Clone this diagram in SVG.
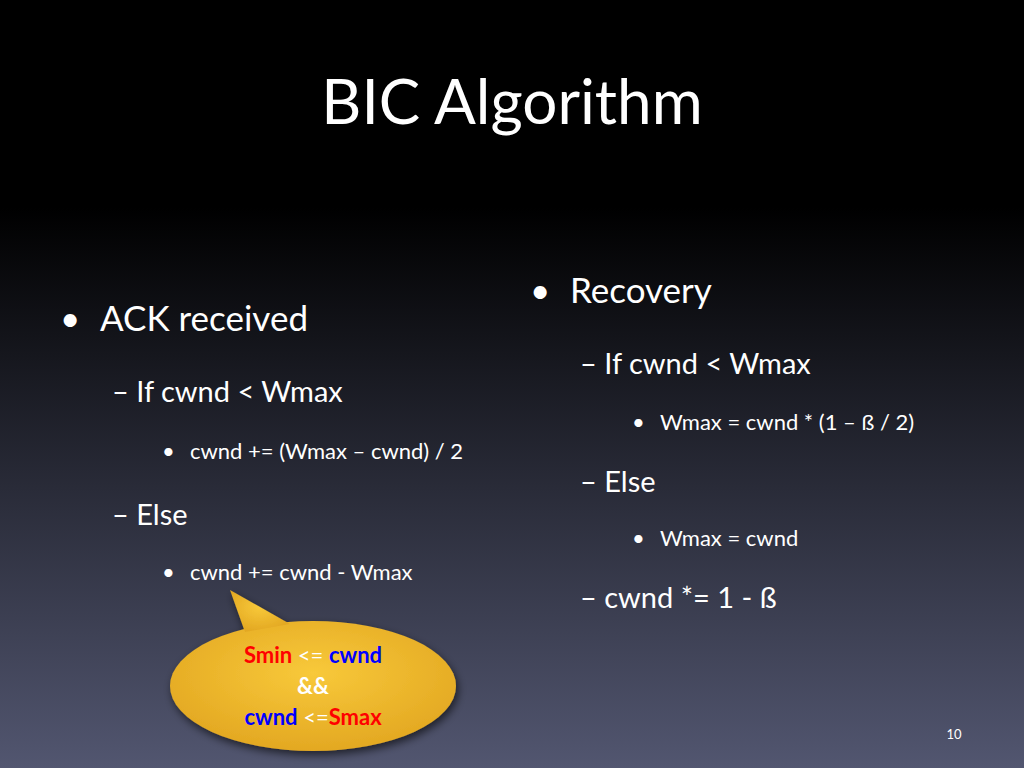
<svg xmlns="http://www.w3.org/2000/svg" width="1024" height="768" viewBox="0 0 1024 768">
<defs>
<linearGradient id="bg" x1="0" y1="0" x2="0" y2="1">
<stop offset="0" stop-color="#000"/><stop offset="0.27" stop-color="#000"/><stop offset="1" stop-color="#525670"/>
</linearGradient>
<radialGradient id="gold" cx="0.5" cy="0.4" r="0.6">
<stop offset="0" stop-color="#f8c93a"/><stop offset="1" stop-color="#e3a822"/>
</radialGradient>
<filter id="sh"><feDropShadow dx="2" dy="4" stdDeviation="4" flood-color="#000" flood-opacity="0.6"/></filter>
</defs>
<style>
text{font-family:Lato,"Open Sans",sans-serif;fill:#fff}
.l1{font-size:35px}.l2{font-size:29px}.l3{font-size:22px}
.c{font-size:22px;font-weight:bold;text-anchor:middle}
</style>
<rect width="1024" height="768" fill="url(#bg)"/>
<text x="512" y="124" font-size="62" text-anchor="middle">BIC Algorithm</text>
<g id="left">
<text class="l1" x="60" y="331">•</text><text class="l1" x="100" y="331">ACK received</text>
<text class="l2" x="112" y="402">– If cwnd &lt; Wmax</text>
<text class="l3" x="162" y="459">•</text><text class="l3" x="190" y="459">cwnd += (Wmax – cwnd) / 2</text>
<text class="l2" x="112" y="525">– Else</text>
<text class="l3" x="162" y="580">•</text><text class="l3" x="190" y="580">cwnd += cwnd - Wmax</text>
</g>
<g id="right">
<text class="l1" x="530" y="303">•</text><text class="l1" x="570" y="303">Recovery</text>
<text class="l2" x="580" y="374">– If cwnd &lt; Wmax</text>
<text class="l3" x="632" y="430">•</text><text class="l3" x="660" y="430">Wmax = cwnd * (1 – ß / 2)</text>
<text class="l2" x="580" y="492">– Else</text>
<text class="l3" x="632" y="546">•</text><text class="l3" x="660" y="546">Wmax = cwnd</text>
<text class="l2" x="580" y="608">– cwnd *= 1 - ß</text>
</g>
<g id="callout">
<g filter="url(#sh)" fill="url(#gold)">
<ellipse cx="313" cy="686" rx="143" ry="65"/>
<path d="M230,590 L245,632 L290,624 Z"/>
</g>
<text class="c" x="313" y="663"><tspan fill="#ff0000">Smin</tspan><tspan fill="#fff" font-weight="normal"> &lt;= </tspan><tspan fill="#0000ff">cwnd</tspan></text>
<text class="c" x="313" y="694" font-weight="normal">&amp;&amp;</text>
<text class="c" x="313" y="725"><tspan fill="#0000ff">cwnd</tspan><tspan fill="#fff" font-weight="normal"> &lt;=</tspan><tspan fill="#ff0000">Smax</tspan></text>
</g>
<text x="954" y="739" font-size="13" text-anchor="middle">10</text>
</svg>
